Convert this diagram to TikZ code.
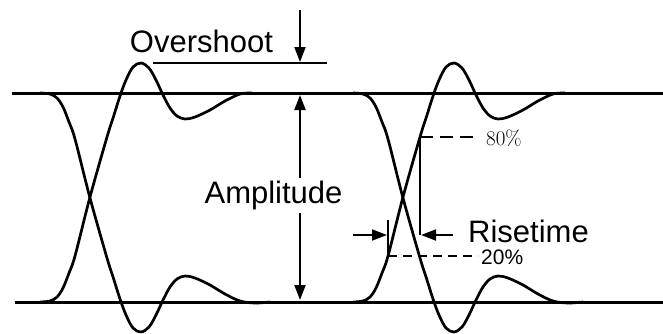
\documentclass[tikz,border=0pt]{standalone}
\usepackage{fontspec}
\newfontfamily\arialfont{Liberation Sans}
\usetikzlibrary{arrows.meta}
\begin{document}
\begin{tikzpicture}[x=1pt,y=-1pt,
  level/.style={line width=3pt},
  wave/.style={line width=2.7pt, line join=round},
  arr/.style={line width=1.9pt,-{Triangle[length=15pt,width=11pt]}},
  marker/.style={line width=1.6pt},
  dashmark/.style={line width=1.6pt, dash pattern=on 13pt off 7pt},
  dashmarkb/.style={line width=1.6pt, dash pattern=on 9pt off 6pt},
  lbl/.style={font=\arialfont\fontsize{31}{36}\selectfont, inner sep=0pt, anchor=base},
]
\useasboundingbox (0,0) rectangle (663,333);

% labels
\node[lbl] (over) at (201.5,52) {Overshoot};
\node[lbl] (amp) at (273.5,203) {Amplitude};
\node[lbl, anchor=base west] (rise) at (468,242) {Risetime};
\node[font=\fontsize{21}{24}\selectfont\bfseries, inner sep=0pt, anchor=base west] (p80) at (486,145) {\mdseries 80\%};
\node[font=\arialfont\fontsize{21}{24}\selectfont, inner sep=0pt, anchor=base west] (p20) at (481,264) {20\%};

% coordinates
\coordinate (tl) at (12,93);   \coordinate (tr) at (663,93);
\coordinate (bl) at (15,302);  \coordinate (br) at (663,302);
\coordinate (os1) at (153,63); \coordinate (os2) at (327,63);
\coordinate (oa) at (300,10);  \coordinate (ob) at (300,62);
\coordinate (aup0) at (300,178); \coordinate (aup1) at (300,95);
\coordinate (adn0) at (300,213); \coordinate (adn1) at (300,300);
\coordinate (v20a) at (388,220); \coordinate (v20b) at (388,256);
\coordinate (v80a) at (420,137); \coordinate (v80b) at (420,235);
\coordinate (la0) at (353,235);  \coordinate (la1) at (387,235);
\coordinate (ra0) at (453,235);  \coordinate (ra1) at (421,235);
\coordinate (d80) at (478,137);  \coordinate (d20) at (478,256);

% level lines
\draw[level] (tl) -- (tr);
\draw[level] (bl) -- (br);

% waveforms
\foreach \s in {0,313}{
\begin{scope}[xshift=\s pt]
\draw[wave] plot[smooth, tension=0.55] coordinates {(40,302) (50,301) (57,297) (63,288) (69,273) (75,256) (90,197) (107,137) (114,115) (120,96) (126,80) (133,67) (141,63) (149,68) (156,80) (163,95) (170,108) (177,116) (185,119) (195,117) (210,110) (225,101) (240,94) (252,93)};
\draw[wave] plot[smooth, tension=0.55] coordinates {(40,93) (50,94) (57,98) (63,107) (69,122) (75,139) (90,198) (107,258) (114,280) (120,299) (126,315) (133,328) (141,332) (149,327) (156,315) (163,300) (170,287) (177,279) (185,276) (195,278) (210,285) (225,294) (240,301) (255,303) (270,302)};
\end{scope}}

% overshoot
\draw[line width=2pt] (os1) -- (os2);
\draw[arr] (oa) -- (ob);

% amplitude
\draw[arr] (aup0) -- (aup1);
\draw[arr] (adn0) -- (adn1);

% risetime markers
\draw[marker] (v80a) -- (v80b);
\draw[marker] (v20a) -- (v20b);
\draw[dashmark] (v80a) -- (d80);
\draw[dashmarkb] (v20b) -- (d20);
\draw[arr] (la0) -- (la1);
\draw[arr] (ra0) -- (ra1);
\end{tikzpicture}
\end{document}
